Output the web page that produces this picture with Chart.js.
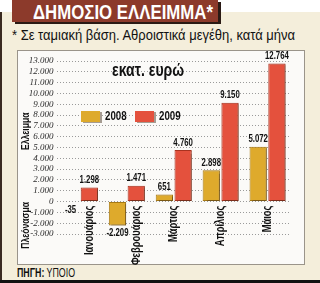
<!DOCTYPE html>
<html>
<head>
<meta charset="utf-8">
<script src="https://cdn.jsdelivr.net/npm/chart.js@4"></script>
<style>
body{margin:0;background:#fff}
#page{position:relative;width:320px;height:283px;overflow:hidden;background:#fff}
#cream{position:absolute;left:0;top:12px;width:320px;height:268px;background:#f4eedb;border-left:2px solid #3a2a20;box-sizing:border-box}
#title{position:absolute;left:12px;top:0;width:206px;height:22px;background:#8c3a2b;box-shadow:3px 2px 0 #2a1a14}
.fit{position:absolute;white-space:nowrap;transform-origin:0 0}
#ttxt{left:33px;top:0;color:#fff;font:bold 21px "Liberation Sans",sans-serif;line-height:23px}
#sub{left:12px;top:27px;font:14.5px "Liberation Sans",sans-serif;color:#111}
#panel{position:absolute;left:17px;top:50px;width:288px;height:215px;background:#fbfaf8;border:1px solid #9a948a;box-sizing:border-box}
#foot{left:17px;top:266px;font:12.5px "Liberation Sans",sans-serif;color:#111}
#bar{position:absolute;left:0;top:280px;width:320px;height:3px;background:#111}
canvas{position:absolute;left:17px;top:50px}
</style>
</head>
<body>
<div id="page">
<div id="cream"></div>
<div id="title"></div>
<div id="ttxt" class="fit" data-w="180">ΔΗΜΟΣΙΟ ΕΛΛΕΙΜΜΑ*</div>
<div id="sub" class="fit" data-w="283">* Σε ταμιακή βάση. Αθροιστικά μεγέθη, κατά μήνα</div>
<div id="panel"></div>
<div id="foot" class="fit" data-w="58"><b>ΠΗΓΗ:</b> ΥΠΟΙΟ</div>
<div id="bar"></div>
<canvas id="grafico" width="288" height="215"></canvas>
</div>
<script>

let meses=["Ιανουάριος","Φεβρουάριος","Μάρτιος","Απρίλιος","Μάιος"]
let anos=["2008","2009"]
let v2008=[-35,-2209,651,2898,5072]
let v2009=[1298,1471,4760,9150,12764]
let yMin=-3000
let yMax=13000
let yStep=1000

let sans='"Liberation Sans",sans-serif'
let aperto=0.78

document.querySelectorAll(".fit").forEach(el=>{
let w=el.getBoundingClientRect().width
el.style.transform="scaleX("+(el.dataset.w/w)+")"
})

function fmt(n){
let s=Math.abs(n).toString().replace(/\B(?=(\d{3})+(?!\d))/g,".")
return (n<0?"-":"")+s
}

// texto estreito, opcionalmente rodado
function texto(ctx,t,x,y,rot){
ctx.save()
ctx.translate(x,y)
if(rot)ctx.rotate(rot)
ctx.scale(aperto,1)
ctx.fillText(t,0,0)
ctx.restore()
}

let extras={
id:'extras',
beforeDatasetsDraw(c){
let ctx=c.ctx
ctx.save()
ctx.shadowColor='rgba(60,40,20,0.45)'
ctx.shadowOffsetX=2
ctx.shadowOffsetY=1
ctx.shadowBlur=1
},
afterDatasetsDraw(c){
let ctx=c.ctx
ctx.restore()
let y=c.scales.y
let x=c.scales.x
let zero=y.getPixelForValue(0)

ctx.save()
ctx.fillStyle='#111'
ctx.font='bold 10px '+sans
ctx.textAlign='center'
c.data.datasets.forEach((ds,i)=>{
c.getDatasetMeta(i).data.forEach((b,j)=>{
let v=ds.data[j]
if(v>=0){
ctx.textBaseline='bottom'
texto(ctx,fmt(v),b.x,b.y-2)
}else{
ctx.textBaseline='top'
texto(ctx,fmt(v),b.x,b.y+3)
}
})
})

ctx.font='bold 12px '+sans
ctx.textAlign='right'
ctx.textBaseline='middle'
meses.forEach((m,j)=>{
let px=x.getPixelForValue(j)
if(v2008[j]<0)px=c.getDatasetMeta(1).data[j].x
texto(ctx,m,px,zero+4,-Math.PI/2)
})

ctx.font='bold 11px '+sans
ctx.textAlign='center'
texto(ctx,"Ελλειμμα",9,y.getPixelForValue(6500),-Math.PI/2)
texto(ctx,"Πλεόνασμα",9,y.getPixelForValue(-2200),-Math.PI/2)

ctx.font='bold 18px '+sans
ctx.textAlign='left'
ctx.textBaseline='alphabetic'
texto(ctx,"εκατ. ευρώ",95,26)

ctx.font='bold 12.5px '+sans
ctx.textBaseline='middle'
let lx=[64,118]
c.data.datasets.forEach((ds,i)=>{
ctx.save()
ctx.shadowColor='rgba(60,40,20,0.45)'
ctx.shadowOffsetX=2
ctx.shadowOffsetY=1
ctx.fillStyle=ds.backgroundColor
ctx.fillRect(lx[i],61,19,11)
ctx.restore()
ctx.fillStyle='#111'
texto(ctx,ds.label,lx[i]+24,67)
})
ctx.restore()
}
}

new Chart(document.getElementById("grafico"),{
type:'bar',
data:{
labels:meses,
datasets:[
{label:anos[0],data:v2008,backgroundColor:'#deaa2c',borderColor:'#a87a14',borderWidth:1,borderSkipped:false},
{label:anos[1],data:v2009,backgroundColor:'#e4513d',borderColor:'#a8321f',borderWidth:1,borderSkipped:false}
]
},
options:{
responsive:false,
animation:false,
events:[],
layout:{padding:{left:0,right:14,top:11,bottom:31}},
plugins:{legend:{display:false},tooltip:{enabled:false}},
datasets:{bar:{categoryPercentage:0.8,barPercentage:0.92}},
scales:{
x:{display:false},
y:{
min:yMin,max:yMax,
afterFit(s){s.width=39.5},
border:{display:false,dash:[1,2]},
grid:{color:'#9a9a9a',lineWidth:1,drawTicks:false},
ticks:{stepSize:yStep,autoSkip:false,padding:3,color:'#2a2a2a',font:{family:'"Liberation Serif","DejaVu Serif",serif',style:'italic',size:9},callback:v=>fmt(v)}
}
}
},
plugins:[extras]
})

</script>
</body>
</html>
